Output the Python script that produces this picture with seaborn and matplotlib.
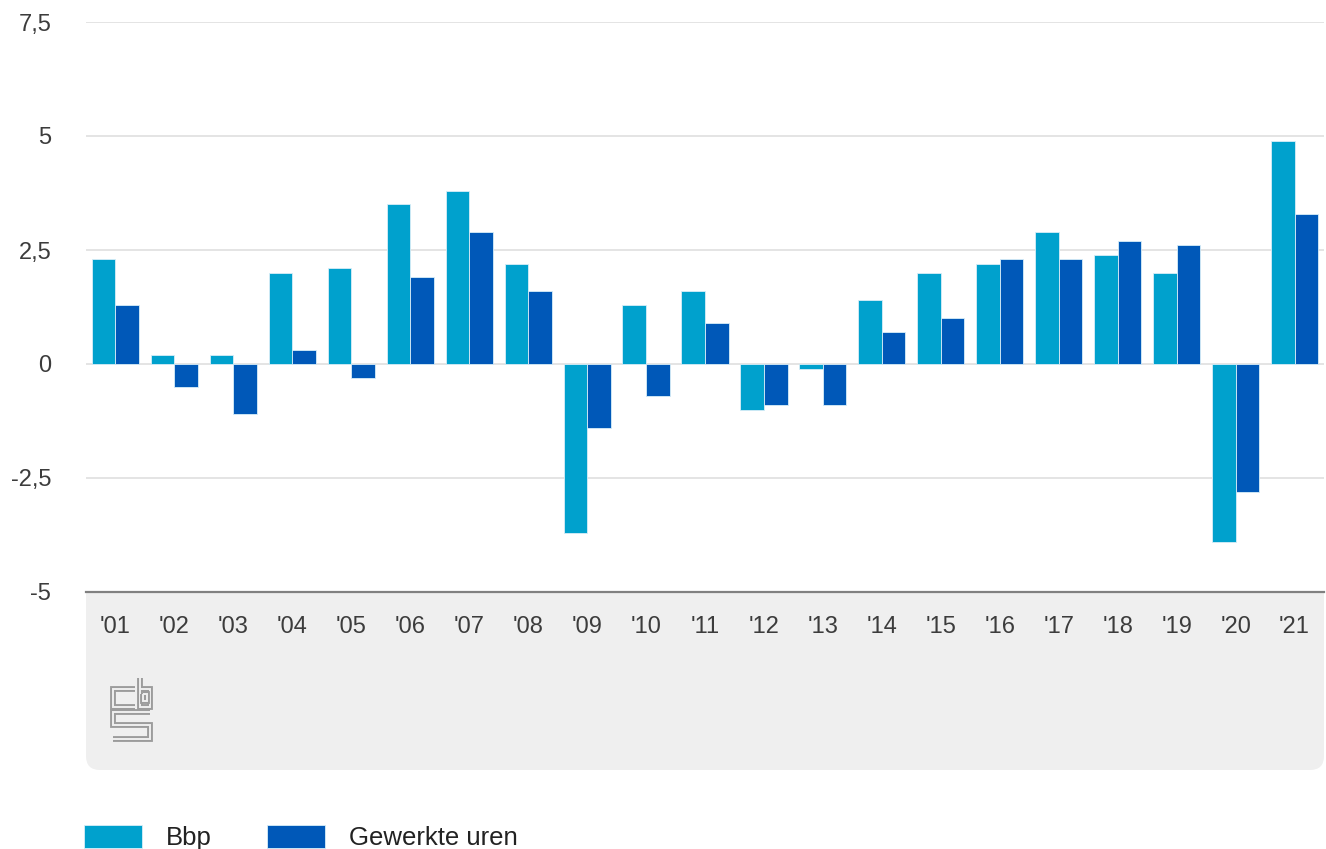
import matplotlib
matplotlib.use("Agg")
import matplotlib.pyplot as plt
from matplotlib.patches import FancyBboxPatch
from matplotlib.lines import Line2D
from matplotlib.transforms import IdentityTransform
import seaborn as sns
import pandas as pd

# Data: jaarlijkse groei (%) bbp en gewerkte uren
jaren = ["'01", "'02", "'03", "'04", "'05", "'06", "'07", "'08", "'09", "'10", "'11",
         "'12", "'13", "'14", "'15", "'16", "'17", "'18", "'19", "'20", "'21"]
bbp = [2.3, 0.2, 0.2, 2.0, 2.1, 3.5, 3.8, 2.2, -3.7, 1.3, 1.6,
       -1.0, -0.1, 1.4, 2.0, 2.2, 2.9, 2.4, 2.0, -3.9, 4.9]
uren = [1.3, -0.5, -1.1, 0.3, -0.3, 1.9, 2.9, 1.6, -1.4, -0.7, 0.9,
        -0.9, -0.9, 0.7, 1.0, 2.3, 2.3, 2.7, 2.6, -2.8, 3.3]
yticks = [-5, -2.5, 0, 2.5, 5, 7.5]
ytick_labels = ['-5', '-2,5', '0', '2,5', '5', '7,5']

df = pd.DataFrame({
    'jaar': jaren * 2,
    'waarde': bbp + uren,
    'reeks': ['Bbp'] * len(jaren) + ['Gewerkte uren'] * len(jaren),
})

sns.set_style('white')
plt.rcParams['font.family'] = ['Liberation Sans', 'DejaVu Sans']

W, H = 1326, 849
fig = plt.figure(figsize=(W / 100, H / 100), dpi=100)
ax = fig.add_axes([86 / W, 1 - 592 / H, (1324 - 86) / W, (592 - 22) / H])

sns.barplot(data=df, x='jaar', y='waarde', hue='reeks',
            palette=['#00a1cd', '#0058b8'], width=0.8, saturation=1,
            edgecolor='#d8eef8', linewidth=0.6, ax=ax)
handles, labels = ax.get_legend_handles_labels()
ax.get_legend().remove()

ax.set_xlim(-0.5, len(jaren) - 0.5)
ax.set_ylim(-5, 7.5)
ax.set_yticks(yticks)
ax.set_yticklabels(ytick_labels)
ax.set_xlabel('')
ax.set_ylabel('')
for s in ['top', 'right', 'left']:
    ax.spines[s].set_visible(False)
ax.spines['bottom'].set_color('#808080')
ax.spines['bottom'].set_linewidth(1.6)
for y in yticks[1:]:
    ax.axhline(y, color='#dcdcdc', linewidth=1.1, zorder=0)
ax.tick_params(axis='x', length=0, pad=17, labelsize=17, labelcolor='#3c3c3c')
ax.tick_params(axis='y', length=0, pad=25, labelsize=17, labelcolor='#3c3c3c')

# grijs paneel onder de as
panel = FancyBboxPatch((86, H - 770), 1324 - 86, 770 - 560,
                       boxstyle='round,pad=0,rounding_size=14',
                       transform=IdentityTransform(), facecolor='#efefef',
                       edgecolor='none', zorder=-1)
fig.patches.append(panel)

# cbs-logo (holle lijnen)
def logo_line(xs, ys):
    for lw, col in [(4.2, '#9c9c9c'), (1.4, '#efefef')]:
        fig.lines.append(Line2D(xs, [H - y for y in ys], transform=IdentityTransform(),
                                color=col, linewidth=lw, zorder=2,
                                solid_joinstyle='miter', solid_capstyle='butt'))

logo_line([135, 113, 113, 135], [689, 689, 707, 707])              # c
logo_line([140, 140, 150, 150, 140], [678, 707, 707, 689, 689])    # b
logo_line([143, 147, 147, 143, 143], [694, 694, 701, 701, 694])
logo_line([150, 113, 113, 150, 150, 113], [712, 712, 725, 725, 739, 739])  # s

fig.legend(handles, labels, loc='upper left', bbox_to_anchor=(84 / W, 1 - 825 / H),
           ncol=2, frameon=False, fontsize=18.5, handlelength=2.25, handleheight=1.0,
           handletextpad=0.93, columnspacing=2.15, borderpad=0, borderaxespad=0,
           labelcolor='#222222')

fig.savefig('out.png', dpi=100, facecolor='white')
